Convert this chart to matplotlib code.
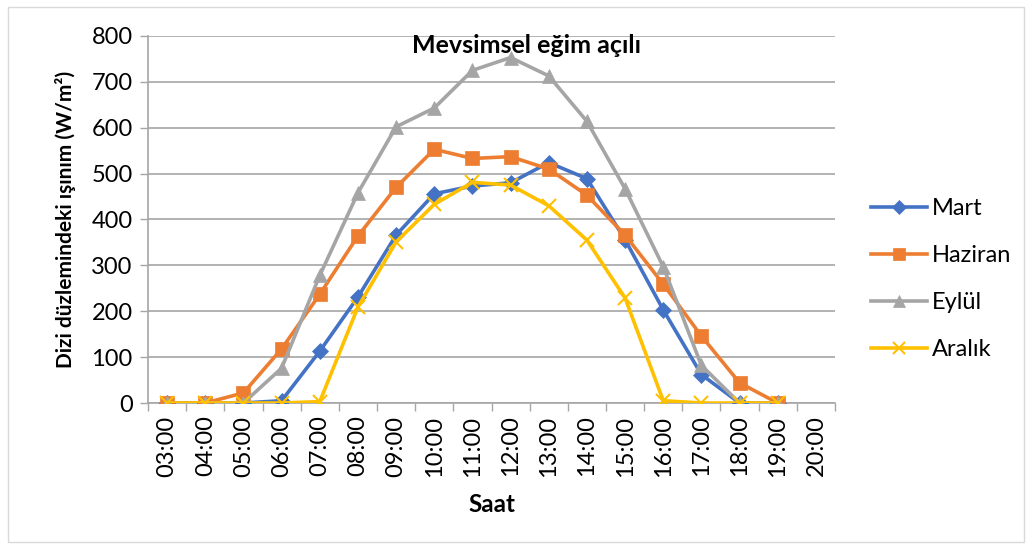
import numpy as np
import matplotlib
matplotlib.use("Agg")
import matplotlib.pyplot as plt
from matplotlib.patches import Rectangle

plt.rcParams['font.family'] = ['Lato', 'DejaVu Sans']

# saatler
hours = ["03:00", "04:00", "05:00", "06:00", "07:00", "08:00", "09:00", "10:00", "11:00",
         "12:00", "13:00", "14:00", "15:00", "16:00", "17:00", "18:00", "19:00", "20:00"]

nan = np.nan
mart = [0, 0, 0, 5, 113, 231, 366, 456, 473, 480, 524, 489, 356, 203, 62, 0, 0, nan]
haziran = [0, 0, 22, 118, 237, 364, 470, 553, 533, 537, 510, 453, 366, 259, 146, 44, 0, nan]
eylul = [0, 0, 0, 76, 278, 458, 602, 643, 725, 753, 713, 614, 467, 297, 82, 0, 0, nan]
aralik = [0, 0, 0, 0, 3, 209, 351, 433, 481, 475, 430, 355, 229, 5, 0, 0, 0, nan]

series = [
    ("Mart", mart, "#4472C4", "D", 8),
    ("Haziran", haziran, "#ED7D31", "s", 9.5),
    ("Eylül", eylul, "#A5A5A5", "^", 10),
    ("Aralık", aralik, "#FFC000", "x", 10),
]

fig = plt.figure(figsize=(10.33, 5.51), dpi=100)
ax = fig.add_axes([0.1433, 0.2686, 0.8083 - 0.1433, 0.9347 - 0.2686])

x = np.arange(len(hours))
for name, vals, col, mk, ms in series:
    ax.plot(x, vals, color=col, lw=2.6, marker=mk, markersize=ms,
            markeredgewidth=1.5 if mk == "x" else 0.5, markeredgecolor=col,
            label=name, zorder=3)

ax.set_xlim(-0.5, len(hours) - 0.5)
ax.set_ylim(0, 800)
ax.set_yticks(np.arange(0, 801, 100))
ax.set_xticks(x)
ax.set_xticklabels(hours, rotation=90)
ax.set_xticks(np.arange(-0.5, len(hours), 1), minor=True)
ax.tick_params(axis='x', which='major', length=0, pad=9, labelsize=17)
ax.tick_params(axis='x', which='minor', length=6, color="#a6a6a6", width=1)
ax.tick_params(axis='y', length=6, color="#a6a6a6", width=1, labelsize=17, pad=5)

ax.grid(axis='y', color="#a6a6a6", lw=1.2, zorder=0)
for s in ["top", "right"]:
    ax.spines[s].set_visible(False)
for s in ["left", "bottom"]:
    ax.spines[s].set_color("#a6a6a6")
    ax.spines[s].set_linewidth(1.2)

ax.set_xlabel("Saat", fontsize=17.5, fontweight="bold", labelpad=12)
ax.set_ylabel("Dizi düzlemindeki ışınım (W/m²)", fontsize=15, fontweight="bold", labelpad=11)

fig.text(0.51, 0.918, "Mevsimsel eğim açılı", ha="center", va="center",
         fontsize=18, fontweight="bold")

leg = fig.legend(loc="center left", bbox_to_anchor=(0.823, 0.494), frameon=False,
                 fontsize=17, handlelength=2.35, handletextpad=0.2, labelspacing=1.1,
                 markerscale=0.9)

fig.patches.append(Rectangle((0.008, 0.017), 0.983, 0.97, transform=fig.transFigure,
                             fill=False, edgecolor="#d9d9d9", lw=1))

fig.savefig("out.png", dpi=100)
